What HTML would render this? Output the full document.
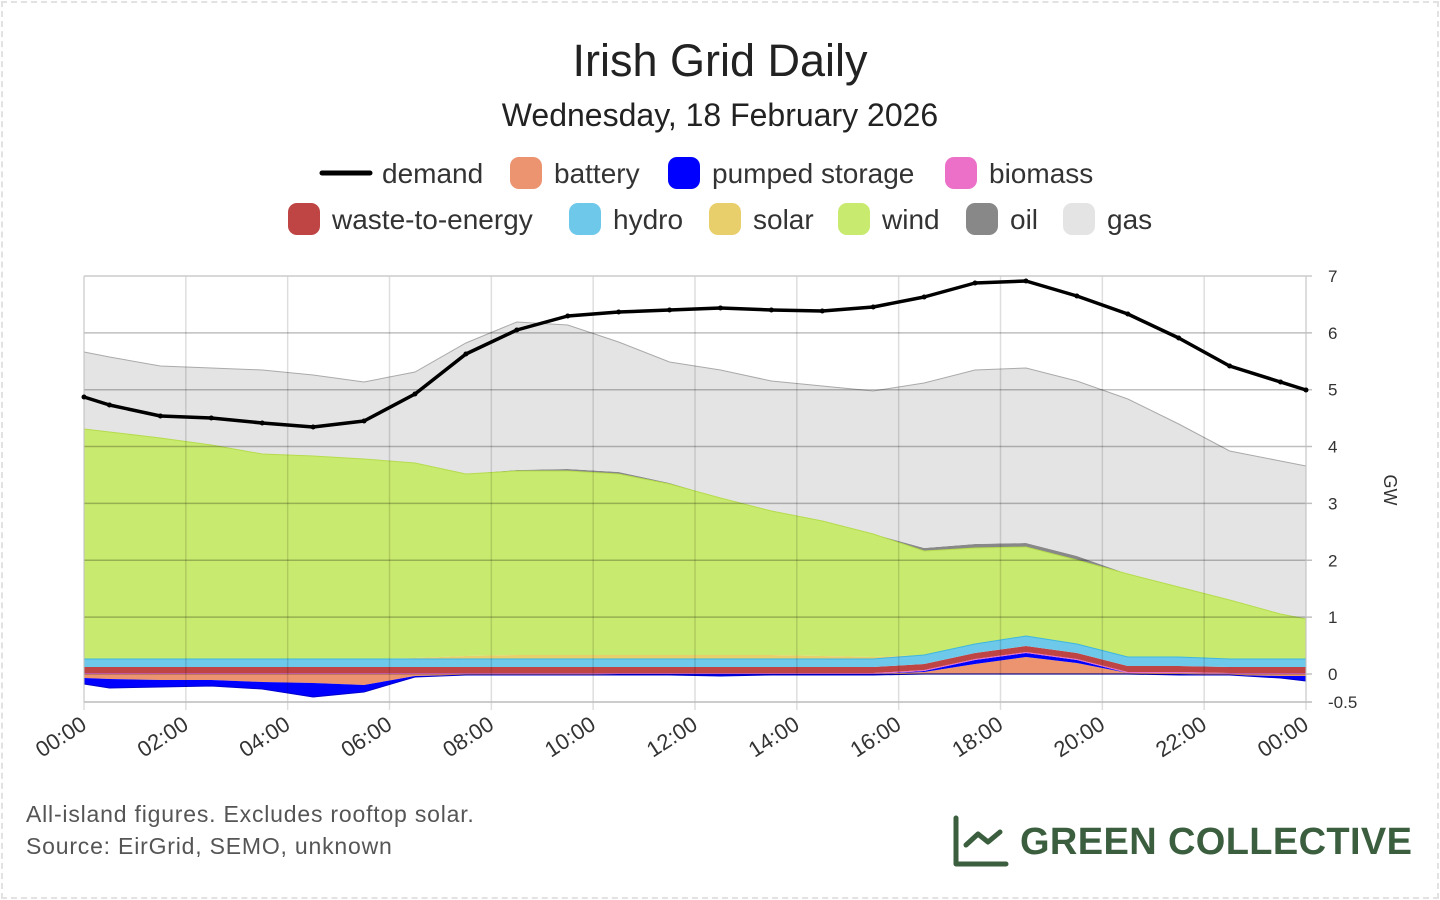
<!DOCTYPE html>
<html><head><meta charset="utf-8"><style>
body{margin:0;background:#fff;}
#w{position:relative;width:1440px;height:900px;overflow:hidden;font-family:"Liberation Sans",sans-serif;}
#w:before{content:"";position:absolute;left:1px;top:1px;right:1px;bottom:1px;border:2px dashed #e2e2e2;}
</style></head><body><div id="w">
<svg id="s" width="1440" height="900" style="position:absolute;left:0;top:0" font-family="Liberation Sans, sans-serif">
<text x="720" y="76" text-anchor="middle" font-size="45" fill="#222">Irish Grid Daily</text>
<text x="720" y="126" text-anchor="middle" font-size="32" fill="#222">Wednesday, 18 February 2026</text>
<g font-size="28" fill="#333">
<line x1="322" y1="173" x2="370" y2="173" stroke="#000" stroke-width="5" stroke-linecap="round"/>
<text x="382" y="183">demand</text>
<rect x="510" y="157" width="32" height="32" rx="9" fill="#ec9370"/><text x="554" y="183">battery</text>
<rect x="668" y="157" width="32" height="32" rx="9" fill="#0000ff"/><text x="712" y="183">pumped storage</text>
<rect x="945" y="157" width="32" height="32" rx="9" fill="#ec6fc8"/><text x="989" y="183">biomass</text>
<rect x="288" y="203" width="32" height="32" rx="9" fill="#bf4444"/><text x="332" y="229">waste-to-energy</text>
<rect x="569" y="203" width="32" height="32" rx="9" fill="#6dc8ea"/><text x="613" y="229">hydro</text>
<rect x="709" y="203" width="32" height="32" rx="9" fill="#e9cf6b"/><text x="753" y="229">solar</text>
<rect x="838" y="203" width="32" height="32" rx="9" fill="#c8ea6e"/><text x="882" y="229">wind</text>
<rect x="966" y="203" width="32" height="32" rx="9" fill="#888"/><text x="1010" y="229">oil</text>
<rect x="1063" y="203" width="32" height="32" rx="9" fill="#e4e4e4"/><text x="1107" y="229">gas</text>
</g>
<g id="areas"></g>
<g id="grid"></g>
<g id="lab" font-size="17" fill="#333"></g>
<text transform="translate(1384,490) rotate(90)" text-anchor="middle" font-size="18" fill="#333">GW</text>
<text x="26" y="822" font-size="23" letter-spacing="0.8" fill="#555">All-island figures. Excludes rooftop solar.</text>
<text x="26" y="854" font-size="23" letter-spacing="0.8" fill="#555">Source: EirGrid, SEMO, unknown</text>
<g stroke="#3b5e3f" stroke-width="5" fill="none" stroke-linecap="round" stroke-linejoin="round">
<path d="M956 818 V864 H1006"/><path d="M966 845 L978 834 L988 842 L1000 832"/>
</g>
<text x="1020" y="854" font-size="38" font-weight="bold" fill="#3b5e3f" textLength="392">GREEN COLLECTIVE</text>
</svg>
<script>
var xs=[84];for(var i=0;i<24;i++)xs.push(84+(i+0.5)*50.917);xs.push(1306);
var battNeg=[678,679,679,678,680,682,683,685,676,675,675,675,674,674,674,674,674,674,674,674,674,674,674,674,675,676];
var pumpNeg=[684,688,687,686,689,691,697,692,676,675,675,675,675,675,676,675,675,675,674,674,674,674,674,675,678,681];
// shift to correct alignment
battNeg=[678,679,680,680,682,683,685,676,675,675,675,674,674,674,674,674,674,674,674,674,674,674,674,675,676,676];
pumpNeg=[684,688,687,686,689,697,692,677,675,675,675,675,675,676,675,675,675,674,674,674,674,674,675,675,678,681];
var battPos=[674,674,674,674,674,674,674,674,674,674,674,674,674,674,674,674,674,672,664,657,663,673,673,674,674,674];
var pAdd=[0,0,0,0,0,0,0,0,0,0,0,0,0,0,0,0,0,1,4,4,3,0,0,0,0,0];
var pumpPos=battPos.map(function(v,i){return v-pAdd[i];});
var bio=pumpPos.map(function(v){return v-1;});
var waste=bio.map(function(v){return v-6;});
var hAdd=[8,8,8,8,8,8,8,8,8,8,8,8,8,8,8,8,8,9,9,10,9,9,9,8,8,8];
var hydro=waste.map(function(v,i){return v-hAdd[i];});
var sAdd=[0,0,0,0,0,0,0,0,1,3,4,4,4,4,4,4,3,2,0,0,0,0,0,0,0,0];
sAdd=[0,0,0,0,0,0,0,1,3,4,4,4,4,4,4,3,2,0,0,0,0,0,0,0,0,0];
var solar=hydro.map(function(v,i){return v-sAdd[i];});
var wind=[429,432,438,445,454,456,459,463,474,471,471,474,484,498,511,521,534,551,548,547,560,574,587,600,614,619];
var oAdd=[0,0,0,0,0,0,0,0,0,1,2,2,1,0,0,0,0,3,4,4,4,0,0,0,0,0];
var oil=wind.map(function(v,i){return v-oAdd[i];});
var gas=[352,357,366,368,370,375,382,372,343,322,325,342,362,370,381,386,391,383,370,368,381,399,424,451,461,466];
var demand=[397,405,416,418,423,427,421,394,354,330,316,312,310,308,310,311,307,297,283,281,296,314,338,366,382,390];
var zero=xs.map(function(){return 674;});
var ns="http://www.w3.org/2000/svg";
function el(p,t,a){var e=document.createElementNS(ns,t);for(var k in a)e.setAttribute(k,a[k]);p.appendChild(e);return e;}
function band(top,bot,c){var d="M";for(var i=0;i<xs.length;i++)d+=xs[i].toFixed(1)+" "+top[i]+" L";for(var i=xs.length-1;i>=0;i--)d+=xs[i].toFixed(1)+" "+bot[i]+(i?" L":" Z");
el(document.getElementById("areas"),"path",{d:d,fill:c});}
band(battNeg,zero,"#ec9370");band(pumpNeg,battNeg,"#0000ff");
band(battPos,zero,"#ec9370");band(pumpPos,battPos,"#0000ff");band(bio,pumpPos,"#ec6fc8");
band(waste,bio,"#bf4444");band(hydro,waste,"#6dc8ea");band(solar,hydro,"#e9cf6b");
band(wind,solar,"#c8ea6e");band(oil,wind,"#888");band(gas,oil,"#e4e4e4");
var g=document.getElementById("grid");
function line(arr,c){el(g,"polyline",{points:xs.map(function(x,i){return x.toFixed(1)+","+arr[i];}).join(" "),fill:"none",stroke:c,"stroke-width":1});}
line(gas,"#aaa");line(wind,"#b5dc4e");line(hydro,"#3fb6e0");line(pumpNeg,"#0000cc");
for(var h=0;h<=24;h+=2){var x=84+h*50.917;el(g,"line",{x1:x,y1:276,x2:x,y2:710,stroke:"rgba(0,0,0,0.13)","stroke-width":1.5});}
var lab=document.getElementById("lab");
for(var v=0;v<=7;v++){var y=674-v*56.86;el(g,"line",{x1:84,y1:y,x2:1312,y2:y,stroke:v==7?"#ccc":"rgba(0,0,0,0.25)","stroke-width":1.5});var t=el(lab,"text",{x:1328,y:y+6});t.textContent=v;}
el(g,"line",{x1:84,y1:702,x2:1312,y2:702,stroke:"#bbb","stroke-width":1.5});
el(g,"line",{x1:84,y1:276,x2:84,y2:702,stroke:"#ccc","stroke-width":1});
el(g,"line",{x1:1306,y1:276,x2:1306,y2:702,stroke:"#ccc","stroke-width":1});
var t=el(lab,"text",{x:1328,y:708});t.textContent="-0.5";
el(g,"polyline",{points:xs.map(function(x,i){return x.toFixed(1)+","+demand[i];}).join(" "),fill:"none",stroke:"#000","stroke-width":3.5,"stroke-linejoin":"round"});
for(var i=0;i<xs.length;i++)el(g,"circle",{cx:xs[i],cy:demand[i],r:2.5,fill:"#000"});
for(var h=0;h<=24;h+=2){var x=84+h*50.917;var s=("0"+(h%24)).slice(-2)+":00";var tt=el(lab,"text",{transform:"translate("+(x+4)+",728) rotate(-33)","text-anchor":"end","font-size":"22"});tt.textContent=s;}
</script>
</div></body></html>
